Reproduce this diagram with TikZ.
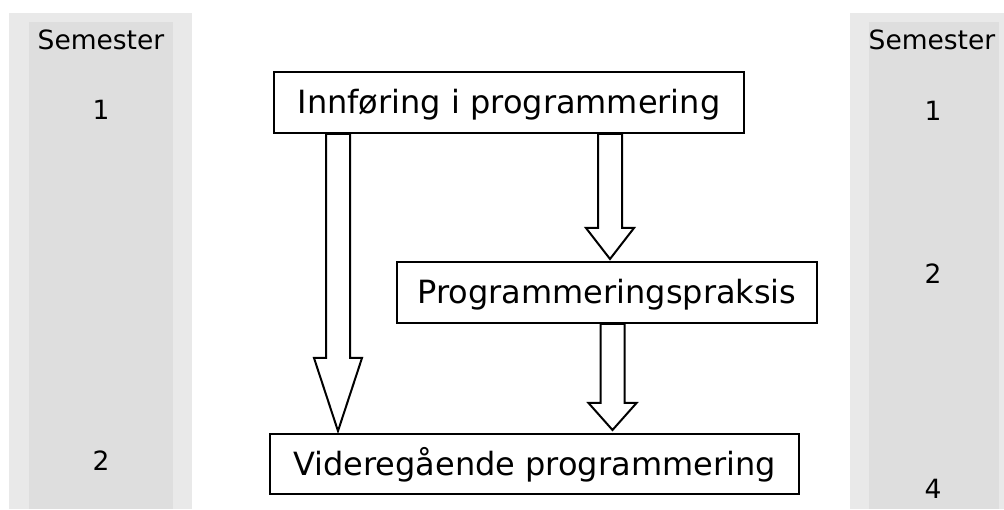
\documentclass[tikz,border=0pt]{standalone}
\usepackage{fontspec}
\setmainfont{DejaVu Sans}
\usetikzlibrary{calc}
\definecolor{colout}{RGB}{233,233,233}
\definecolor{colin}{RGB}{222,222,222}
\tikzset{
  course/.style={draw=black, line width=2pt, fill=white, inner sep=0pt,
    font=\fontsize{32}{38}\selectfont, text height=23pt, text depth=0pt},
  colnum/.style={anchor=base, inner sep=0pt, font=\fontsize{26.5}{31}\selectfont},
  fat/.style={draw=black, line width=2pt, fill=white, line join=miter},
}
\begin{document}
\begin{tikzpicture}[x=1pt, y=-1pt]
\useasboundingbox (0,0) rectangle (1004,510);
% semester columns
\fill[colout] (9,13) rectangle (192,509);
\fill[colin] (29,22) rectangle (173,509);
\fill[colout] (850,13) rectangle (1004,509);
\fill[colin] (869,22) rectangle (999,509);
\node[colnum] (ls) at (101,50) {Semester};
\node[colnum] (l1) at (101,120) {1};
\node[colnum] (l2) at (101,470) {2};
\node[colnum] (rs) at (932,50) {Semester};
\node[colnum] (r1) at (933,121) {1};
\node[colnum] (r2) at (933,284) {2};
\node[colnum] (r4) at (933,498) {4};
% courses
\node[course, minimum width=470pt, minimum height=61pt] (b1) at (509,102.5) {Innføring i programmering};
\node[course, minimum width=420pt, minimum height=61pt] (b2) at (607,292.5) {Programmeringspraksis};
\node[course, minimum width=529pt, minimum height=60pt] (b3) at (534.5,464) {Videregående programmering};
% fat arrows
\coordinate (a1s) at ($(b1.south west)+(65,0)$);
\coordinate (a1e) at ($(b3.north west)+(69,-2)$);
\draw[fat] let \p1=(a1s), \p2=(a1e) in
  (\x1-12,\y1) -- (\x1+12,\y1) -- (\x1+12,358) -- (\x1+24,358) -- (\x1,\y2)
  -- (\x1-24,358) -- (\x1-12,358) -- cycle;
\coordinate (a2s) at ($(b1.south west)+(337,0)$);
\coordinate (a2e) at ($(b2.north west)+(214,-2)$);
\draw[fat] let \p1=(a2s), \p2=(a2e) in
  (\x1-12,\y1) -- (\x1+12,\y1) -- (\x1+12,228) -- (\x1+24,228) -- (\x1,\y2)
  -- (\x1-24,228) -- (\x1-12,228) -- cycle;
\coordinate (a3s) at ($(b2.south west)+(216.5,0)$);
\coordinate (a3e) at ($(b3.north west)+(79,-3)$);
\draw[fat] let \p1=(a3s), \p2=(a3e) in
  (\x1-12,\y1) -- (\x1+12,\y1) -- (\x1+12,403) -- (\x1+24,403) -- (\x1,\y2)
  -- (\x1-24,403) -- (\x1-12,403) -- cycle;
\end{tikzpicture}
\end{document}
